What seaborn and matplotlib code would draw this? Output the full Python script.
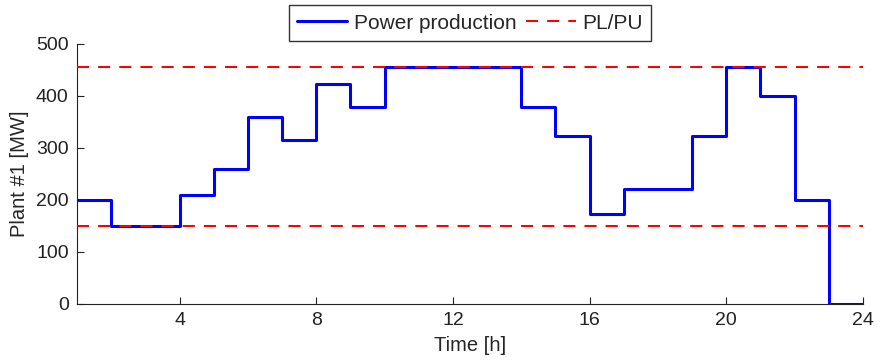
import matplotlib
matplotlib.use("Agg")
import matplotlib.pyplot as plt
import seaborn as sns
import pandas as pd

hours = list(range(1, 25))
power = [200, 150, 150, 210, 260, 360, 315, 423, 378, 455, 455, 455, 455,
         378, 323, 173, 222, 222, 323, 455, 400, 200, 0, 0]
pl_pu = [150, 455]
xticks = [4, 8, 12, 16, 20, 24]
yticks = [0, 100, 200, 300, 400, 500]

sns.set_theme(style="white")
plt.rcParams['font.family'] = ['Liberation Sans', 'DejaVu Sans']

fig = plt.figure(figsize=(8.79, 3.62), dpi=100)
ax = fig.add_axes([77/879, 1 - 304/362, (863-77)/879, (304-44)/362])

df = pd.DataFrame({"Time": hours, "Power": power})
sns.lineplot(data=df, x="Time", y="Power", ax=ax, drawstyle="steps-post",
             color="#0000ff", linewidth=2.2, label="Power production")
for i, v in enumerate(pl_pu):
    ax.axhline(v, color="#ff0000", linestyle=(0, (6, 4.5)), linewidth=1.45,
               label="PL/PU" if i == 0 else None, zorder=3)

ax.set_xlim(1, 24)
ax.set_ylim(0, 500)
ax.set_xticks(xticks)
ax.set_yticks(yticks)
ax.tick_params(direction="in", length=5, width=0.8, labelsize=14, colors="#222222",
               left=True, bottom=True, pad=6)
for s in ["top", "right"]:
    ax.spines[s].set_visible(False)
for s in ["left", "bottom"]:
    ax.spines[s].set_color("#222222")
    ax.spines[s].set_linewidth(0.8)
ax.set_xlabel("Time [h]", fontsize=14.5, labelpad=5)
ax.set_ylabel("Plant #1 [MW]", fontsize=14.5, labelpad=5)

leg = ax.legend(loc="lower center", bbox_to_anchor=(0.5, 1.0), ncol=2, fontsize=15,
                frameon=True, fancybox=False, edgecolor="black", handlelength=2.4,
                columnspacing=0.45, handletextpad=0.3, borderpad=0.4, borderaxespad=0.15)
leg.get_frame().set_linewidth(1.0)

fig.savefig("out.png", dpi=100)
